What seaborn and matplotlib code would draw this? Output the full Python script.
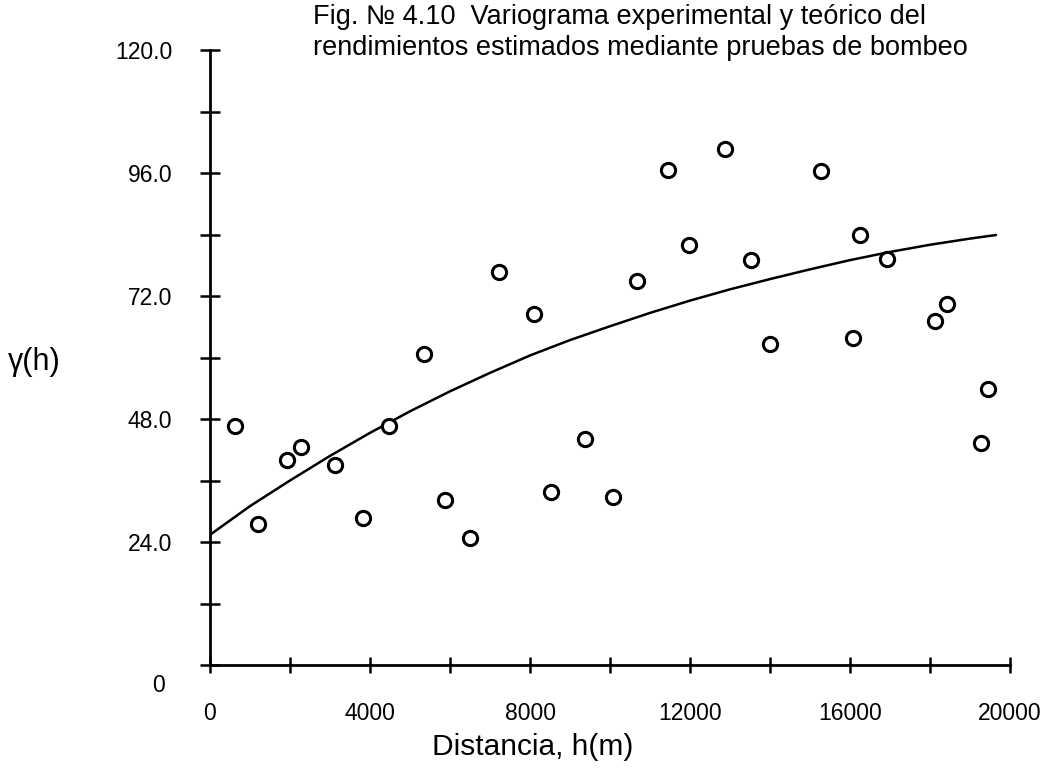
import numpy as np
import pandas as pd
import matplotlib
matplotlib.use('Agg')
import matplotlib.pyplot as plt
import matplotlib.transforms as mtransforms
import seaborn as sns

# experimental variogram points (distance m, gamma)
dist_exp = [625, 1200, 1925, 2275, 3125, 3825, 4475, 5350, 5875, 6500,
            7225, 8100, 8525, 9375, 10075, 10675, 11450, 11975, 12875, 13525,
            14000, 15275, 16075, 16250, 16925, 18125, 18425, 19275, 19450]
gamma_exp = [46.6, 27.5, 40.0, 42.5, 39.0, 28.7, 46.6, 60.7, 32.2, 24.8,
             76.7, 68.5, 33.8, 44.1, 32.8, 74.9, 96.6, 82.0, 100.7, 79.0,
             62.6, 96.4, 63.8, 83.9, 79.2, 67.1, 70.4, 43.3, 53.9]

# theoretical model curve
dist_mod = [0, 1000, 2000, 3000, 4000, 5000, 6000, 7000, 8000, 9000, 10000,
            11000, 12000, 13000, 14000, 15000, 16000, 17000, 18000, 19000, 19650]
gamma_mod = [25.4, 31.0, 36.0, 40.8, 45.3, 49.5, 53.4, 57.0, 60.4, 63.4, 66.1,
             68.7, 71.1, 73.3, 75.3, 77.2, 79.0, 80.6, 82.0, 83.2, 83.9]

xticks = [0, 2000, 4000, 6000, 8000, 10000, 12000, 14000, 16000, 18000, 20000]
xlabels = ['0', '', '4000', '', '8000', '', '12000', '', '16000', '', '20000']
yticks = [0, 12, 24, 36, 48, 60, 72, 84, 96, 108, 120]
ylabels = ['0', '', '24.0', '', '48.0', '', '72.0', '', '96.0', '', '120.0']

title = ('Fig. \u2116 4.10  Variograma experimental y te\u00f3rico del\n'
         'rendimientos estimados mediante pruebas de bombeo')

df_exp = pd.DataFrame({'h': dist_exp, 'g': gamma_exp})
df_mod = pd.DataFrame({'h': dist_mod, 'g': gamma_mod})

sns.set_style('ticks')
plt.rcParams['font.family'] = ['Liberation Sans', 'DejaVu Sans']
plt.rcParams['text.color'] = 'black'
plt.rcParams['axes.labelcolor'] = 'black'

fig = plt.figure(figsize=(10.43, 7.73), dpi=100)
ax = fig.add_axes([210/1043, 1-665/773, 800/1043, 615/773])

sns.lineplot(data=df_mod, x='h', y='g', ax=ax, color='black', lw=1.8)
sns.scatterplot(data=df_exp, x='h', y='g', ax=ax, marker='o', s=105,
                facecolor='white', edgecolor='black', linewidth=2.2, zorder=3)

ax.set_xlim(0, 20000)
ax.set_ylim(0, 120)
sns.despine(ax=ax)
for sp in ['left', 'bottom']:
    ax.spines[sp].set_linewidth(2)
    ax.spines[sp].set_color('black')

ax.set_xticks(xticks)
ax.set_xticklabels(xlabels, fontsize=16.5)
ax.set_yticks(yticks)
ax.set_yticklabels(ylabels, fontsize=16.5)
ax.tick_params(axis='x', direction='inout', length=12, width=1.8, pad=21, colors='black')
ax.tick_params(axis='y', direction='inout', length=14, width=1.8, pad=20, colors='black')

# the "0" on the y axis sits below the x axis line in the original
ylab0 = ax.get_yticklabels()[0]
ylab0.set_transform(ylab0.get_transform() +
                    mtransforms.ScaledTranslation(-8/100, -18/100, fig.dpi_scale_trans))

ax.set_xlabel('Distancia, h(m)', fontsize=21.5, color='black')
ax.xaxis.set_label_coords((533-210)/800, (665-747)/615)
ax.xaxis.label.set_va('center')
ax.set_ylabel('\u03b3(h)', fontsize=22, rotation=0, color='black')
ax.yaxis.set_label_coords((34-210)/800, (665-362)/615)
ax.yaxis.label.set_va('center')
ax.yaxis.label.set_ha('center')

fig.text(313/1043, 1-4/773, title, ha='left', va='top', fontsize=19.5,
         linespacing=1.25, color='black')

fig.savefig('out.png', dpi=100)
